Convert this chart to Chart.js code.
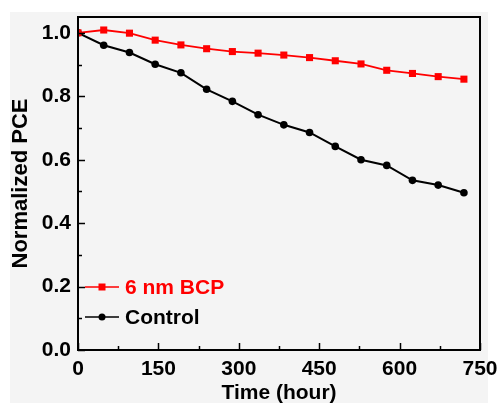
<!DOCTYPE html>
<html>
<head>
<meta charset="utf-8">
<script src="https://cdn.jsdelivr.net/npm/chart.js@4/dist/chart.umd.min.js"></script>
<style>
  body { margin: 0; background: #fff; }
  canvas { display: block; }
</style>
</head>
<body>
<canvas id="grafico" width="499" height="403"></canvas>
<script>
// hours of aging
const hours = [0, 48, 96, 144, 192, 240, 288, 336, 384, 432, 480, 528, 576, 624, 672, 720];
const bcpPce = [1.000, 1.009, 0.999, 0.977, 0.962, 0.950, 0.941, 0.936, 0.930, 0.922, 0.912, 0.902, 0.882, 0.872, 0.862, 0.854];
const controlPce = [1.000, 0.961, 0.938, 0.901, 0.874, 0.822, 0.784, 0.742, 0.710, 0.686, 0.642, 0.600, 0.582, 0.535, 0.520, 0.496];

const xTicks = [0, 150, 300, 450, 600, 750];
const xMinor = [75, 225, 375, 525, 675];
const yTicks = [0.0, 0.2, 0.4, 0.6, 0.8, 1.0];
const yMinor = [0.1, 0.3, 0.5, 0.7, 0.9];
const seriesNames = ["6 nm BCP", "Control"];

const fonte = "'Liberation Sans', Arial, sans-serif";
const vermelho = "#ff0000";

const toPoints = (ys) => hours.map((h, i) => ({ x: h, y: ys[i] }));

// gray paper behind the figure
const fundo = {
  id: "fundo",
  beforeDraw(chart) {
    const ctx = chart.ctx;
    ctx.save();
    ctx.fillStyle = "#ffffff";
    ctx.fillRect(0, 0, chart.width, chart.height);
    ctx.fillStyle = "#f4f4f4";
    ctx.fillRect(10, 12, 478, chart.height - 12);
    ctx.restore();
  },
};

// frame + inward ticks + legend inside the plot
const moldura = {
  id: "moldura",
  afterDatasetsDraw(chart) {
    const { ctx, chartArea: a, scales } = chart;
    ctx.save();
    ctx.strokeStyle = "#000";
    ctx.lineWidth = 2;
    ctx.strokeRect(a.left, a.top, a.right - a.left, a.bottom - a.top);

    ctx.lineWidth = 1.5;
    ctx.beginPath();
    xTicks.forEach((v) => {
      const px = Math.round(scales.x.getPixelForValue(v)) + 0.5;
      ctx.moveTo(px, a.bottom);
      ctx.lineTo(px, a.bottom - 7);
    });
    xMinor.forEach((v) => {
      const px = Math.round(scales.x.getPixelForValue(v)) + 0.5;
      ctx.moveTo(px, a.bottom);
      ctx.lineTo(px, a.bottom - 4);
    });
    yTicks.forEach((v) => {
      const py = Math.round(scales.y.getPixelForValue(v)) + 0.5;
      ctx.moveTo(a.left, py);
      ctx.lineTo(a.left + 7, py);
    });
    yMinor.forEach((v) => {
      const py = Math.round(scales.y.getPixelForValue(v)) + 0.5;
      ctx.moveTo(a.left, py);
      ctx.lineTo(a.left + 4, py);
    });
    ctx.stroke();

    // legend
    const linhas = [a.bottom - 63, a.bottom - 33];
    chart.data.datasets.forEach((ds, i) => {
      const y = linhas[i];
      const x0 = a.left + 7;
      const x1 = a.left + 41;
      const xm = (x0 + x1) / 2;
      ctx.strokeStyle = ds.borderColor;
      ctx.lineWidth = 1.5;
      ctx.beginPath();
      ctx.moveTo(x0, y);
      ctx.lineTo(x1, y);
      ctx.stroke();
      ctx.fillStyle = ds.backgroundColor;
      if (ds.pointStyle === "rect") {
        ctx.fillRect(xm - 3.5, y - 3.5, 7, 7);
      } else {
        ctx.beginPath();
        ctx.arc(xm, y, 3.5, 0, Math.PI * 2);
        ctx.fill();
      }
      ctx.fillStyle = i === 0 ? vermelho : "#000";
      ctx.font = "bold 21px " + fonte;
      ctx.textBaseline = "middle";
      ctx.textAlign = "left";
      ctx.fillText(ds.label, a.left + 47, y + 1);
    });
    ctx.restore();
  },
};

const config = {
  type: "line",
  data: {
    datasets: [
      {
        label: seriesNames[0],
        data: toPoints(bcpPce),
        borderColor: vermelho,
        backgroundColor: vermelho,
        borderWidth: 1.8,
        pointStyle: "rect",
        pointRadius: 5,
        pointBorderWidth: 0,
      },
      {
        label: seriesNames[1],
        data: toPoints(controlPce),
        borderColor: "#000",
        backgroundColor: "#000",
        borderWidth: 2,
        pointStyle: "circle",
        pointRadius: 3.8,
        pointBorderWidth: 0,
      },
    ],
  },
  options: {
    responsive: false,
    animation: false,
    devicePixelRatio: 1,
    layout: { padding: { top: 17, right: 19, left: 8, bottom: 0 } },
    plugins: {
      legend: { display: false },
      tooltip: { enabled: false },
    },
    scales: {
      x: {
        type: "linear",
        min: 0,
        max: 750,
        afterBuildTicks: (s) => { s.ticks = xTicks.map((v) => ({ value: v })); },
        afterFit: (s) => {
          s.height = 53;
          s.paddingLeft = 0;
          s.paddingRight = 0;
        },
        grid: { display: false, drawTicks: false },
        border: { display: false },
        ticks: {
          padding: 7,
          color: "#000",
          font: { family: fonte, weight: "bold", size: 21 },
          maxRotation: 0,
        },
        title: {
          display: true,
          text: "Time (hour)",
          color: "#000",
          padding: { top: 0, bottom: -3 },
          font: { family: fonte, weight: "bold", size: 21 },
        },
      },
      y: {
        min: 0,
        max: 1.05,
        afterBuildTicks: (s) => { s.ticks = yTicks.map((v) => ({ value: v })); },
        afterFit: (s) => {
          s.width = 70;
          s.paddingTop = 0;
          s.paddingBottom = 0;
        },
        grid: { display: false, drawTicks: false },
        border: { display: false },
        ticks: {
          padding: 7,
          color: "#000",
          font: { family: fonte, weight: "bold", size: 21 },
          callback: (v) => v.toFixed(1),
        },
        title: {
          display: true,
          text: "Normalized PCE",
          color: "#000",
          padding: { top: 0, bottom: 0 },
          font: { family: fonte, weight: "bold", size: 22 },
        },
      },
    },
  },
  plugins: [fundo, moldura],
};

const grafico = new Chart(document.getElementById("grafico"), config);
</script>
</body>
</html>
